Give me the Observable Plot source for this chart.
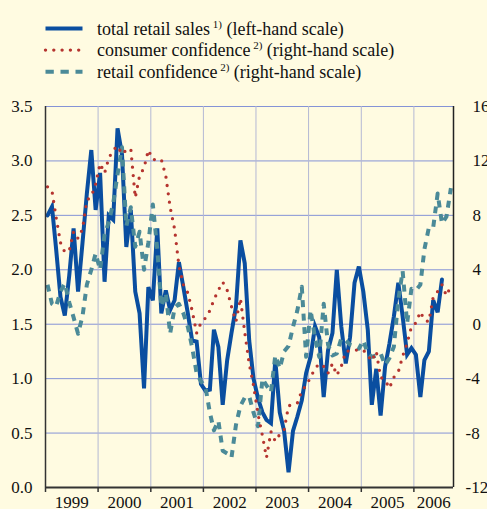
<!DOCTYPE html>
<html><head><meta charset="utf-8">
<script src="https://cdn.jsdelivr.net/npm/d3@7"></script>
<script src="https://cdn.jsdelivr.net/npm/@observablehq/plot@0.6"></script>
<style>
html,body{margin:0;padding:0;background:#FFFBE1;}
body{width:487px;height:509px;overflow:hidden;}
#legend{display:block;}
#chart svg{display:block;}
</style></head><body>
<svg id="legend" width="487" height="92"></svg>
<div id="chart"></div>
<script>
// ---- data (monthly, starting January 1999) ----
const retailSales = [2.50,2.58,2.20,1.75,1.58,1.95,2.38,1.80,2.25,2.70,3.10,2.55,
 2.89,1.89,2.50,2.46,3.30,3.06,2.21,2.55,1.80,1.60,0.91,1.84,
 1.72,2.38,1.60,1.81,1.63,1.72,2.07,1.84,1.60,1.35,1.34,0.95,
 0.89,0.90,1.45,1.29,0.76,1.17,1.42,1.66,2.27,2.06,1.35,1.00,
 0.82,0.69,0.62,0.59,1.17,0.69,0.52,0.14,0.52,0.65,0.80,1.05,
 1.20,1.48,1.38,0.83,1.26,1.42,2.00,1.48,1.14,1.38,1.88,2.03,
 1.80,1.45,0.76,1.09,0.66,1.11,1.32,1.57,1.88,1.57,1.22,1.28,
 1.22,0.83,1.17,1.25,1.72,1.61,1.91];
const consumerConf = [10.1,9.8,7.9,6.0,5.3,5.4,6.8,6.3,7.0,9.1,9.4,10.3,
 11.8,11.1,12.2,12.8,13.1,12.5,12.8,12.9,9.3,10.9,11.5,12.8,
 12.1,12.1,12.1,10.9,8.6,7.0,4.3,2.9,2.3,1.0,-0.65,0.1,
 0.45,1.0,1.8,2.5,3.1,2.5,1.3,0.2,1.9,-0.6,-2.9,-4.5,
 -6.6,-8.2,-9.8,-7.9,-8.6,-8.1,-7.8,-6.0,-5.9,-5.8,-4.9,-4.5,
 -3.9,-3.25,-2.9,-3.1,-3.6,-2.9,-3.75,-3.1,-2.0,-1.95,-1.9,-1.9,
 -1.9,-2.3,-2.7,-2.0,-3.9,-4.1,-4.7,-3.9,-3.5,-2.35,-1.4,-0.2,
 0.1,0.92,0.31,0.18,2.0,2.4,2.9,2.1,2.8];
const retailConf = [2.9,1.5,1.3,2.4,3.0,1.6,0.5,-0.7,0.6,2.9,4.0,5.2,
 4.0,6.6,7.5,8.9,11.0,13.0,7.2,8.6,5.7,6.8,4.0,6.0,
 8.8,5.5,1.3,2.3,-0.7,1.2,1.5,0.8,-0.2,-1.7,-3.6,-4.2,
 -4.6,-6.5,-7.8,-7.1,-9.3,-9.5,-9.8,-7.4,-6.0,-5.4,-5.3,-6.5,
 -7.5,-4.0,-4.5,-5.0,-2.3,-3.25,-2.0,-1.6,-0.2,1.0,2.76,-2.4,
 1.04,-1.04,-2.4,1.5,-1.5,-2.3,-2.15,-1.04,-1.2,-1.5,-1.6,-1.8,
 -1.2,-2.15,-2.4,-2.3,-2.15,-3.0,-2.5,-1.65,1.8,3.9,0.06,2.6,
 2.5,2.9,5.5,7.1,7.1,9.6,7.4,7.9,10.0];
const leftTicks = [0,0.5,1,1.5,2,2.5,3,3.5];
const rightTicks = [-12,-8,-4,0,4,8,12,16];
const years = [1999,2000,2001,2002,2003,2004,2005,2006];
const legendItems = [
  {label:"total retail sales", note:"1)", scale:"(left-hand scale)", color:"#0A4EA0", dash:null, width:4, cap:"butt"},
  {label:"consumer confidence", note:"2)", scale:"(right-hand scale)", color:"#B5342F", dash:"0 8.3", width:3.4, cap:"round"},
  {label:"retail confidence", note:"2)", scale:"(right-hand scale)", color:"#4B8A98", dash:"8.3 6.7", width:4, cap:"butt"}
];

// ---- pick an installed serif font ----
function pickFont(cands) {
  const ctx = document.createElement("canvas").getContext("2d");
  const probe = "total retail sales 1999 3.5";
  for (const bases of [["monospace"], ["sans-serif"]]) {
    for (const c of cands) {
      let ok = true;
      for (const b of bases) {
        ctx.font = "18px " + b; const w0 = ctx.measureText(probe).width;
        ctx.font = "18px \"" + c + "\", " + b; const w1 = ctx.measureText(probe).width;
        if (Math.abs(w0 - w1) < 0.01) ok = false;
      }
      if (ok) return "\"" + c + "\", serif";
    }
  }
  return "serif";
}
const FONT = pickFont(["Liberation Serif", "Times New Roman", "Tinos", "DejaVu Serif", "Noto Serif", "FreeSerif", "Times"]);
document.body.style.fontFamily = FONT;

// ---- helpers ----
const month = i => new Date(Date.UTC(1999, i, 15));
const xStart = new Date(Date.UTC(1999, 0, 1));
const xEnd = new Date(Date.UTC(2006, 9, 3));
const toLeft = r => (r + 12) / 8;   // right-hand scale -> left-hand scale
const salesData = retailSales.map((v, i) => ({date: month(i), v}));
const consData = consumerConf.map((v, i) => ({date: month(i), v: toLeft(v)}));
const rconfData = retailConf.map((v, i) => ({date: month(i), v: toLeft(v)}));
const yearStarts = years.map(y => new Date(Date.UTC(y, 0, 1)));
const yearMids = years.map(y => {
  const a = new Date(Date.UTC(y, 0, 1)), b = new Date(Math.min(Date.UTC(y + 1, 0, 1), +xEnd));
  return new Date((+a + +b) / 2);
});

// ---- legend ----
const lg = d3.select("#legend");
legendItems.forEach((it, k) => {
  const yLine = 28.5 + k * 21.6, yText = 34.5 + k * 21.6;
  lg.append("line").attr("x1", 45.5).attr("x2", 82.5).attr("y1", yLine).attr("y2", yLine)
    .attr("stroke", it.color).attr("stroke-width", it.width).attr("stroke-linecap", it.cap)
    .attr("stroke-dasharray", it.dash);
  const t = lg.append("text").attr("x", 97).attr("y", yText)
    .style("font-family", FONT).attr("font-size", 18).attr("fill", "#111");
  t.append("tspan").text(it.label);
  t.append("tspan").attr("font-size", 11).attr("dy", -7).text("\u00a0" + it.note);
  t.append("tspan").attr("dy", 7).text("\u00a0" + it.scale);
});

// ---- chart ----
const fmtR = d => String(Math.round(d * 8 - 12));
const chart = Plot.plot({
  width: 487, height: 417,
  marginTop: 14, marginBottom: 22, marginLeft: 45, marginRight: 34,
  style: {background: "transparent", fontFamily: FONT, fontSize: "17px", color: "#111"},
  x: {type: "utc", domain: [xStart, xEnd]},
  y: {domain: [0, 3.5]},
  marks: [
    Plot.gridY(leftTicks, {stroke: "#8593D6", strokeOpacity: 1, strokeWidth: 1}),
    Plot.gridX(yearStarts, {stroke: "#B4B8D4", strokeOpacity: 1, strokeWidth: 1}),
    Plot.line(salesData, {x: "date", y: "v", stroke: "#0A4EA0", strokeWidth: 4, strokeLinejoin: "miter", strokeMiterlimit: 4}),
    Plot.line(rconfData, {x: "date", y: "v", stroke: "#4B8A98", strokeWidth: 4, strokeDasharray: "7 6.5", strokeLinecap: "butt"}),
    Plot.line(consData, {x: "date", y: "v", stroke: "#B5342F", strokeWidth: 3.3, strokeDasharray: "0 8.4", strokeLinecap: "round"}),
    Plot.ruleX([xStart], {stroke: "#333", strokeWidth: 1.5}),
    Plot.ruleX([xEnd], {stroke: "#222", strokeWidth: 1.5}),
    Plot.ruleY([0], {stroke: "#333", strokeWidth: 2}),
    Plot.axisY(leftTicks, {anchor: "left", tickSize: 0, tickPadding: 13, tickFormat: d3.format(".1f"), label: null, fontFamily: FONT}),
    Plot.axisY(rightTicks.filter(d => d >= 0).map(toLeft), {anchor: "right", tickSize: 0, tickPadding: 19, tickFormat: fmtR, label: null, fontFamily: FONT}),
    Plot.axisY(rightTicks.filter(d => d < 0).map(toLeft), {anchor: "right", tickSize: 0, tickPadding: 12, tickFormat: fmtR, label: null, fontFamily: FONT}),
    Plot.axisX(yearStarts, {anchor: "bottom", tickSize: 5, tickFormat: () => "", stroke: "#333", strokeWidth: 1.5, label: null}),
    Plot.axisX(yearMids, {anchor: "bottom", tickSize: 0, tickPadding: 8, tickFormat: d => String(d.getUTCFullYear()), label: null, fontFamily: FONT})
  ]
});
document.getElementById("chart").appendChild(chart);
</script>
</body></html>
